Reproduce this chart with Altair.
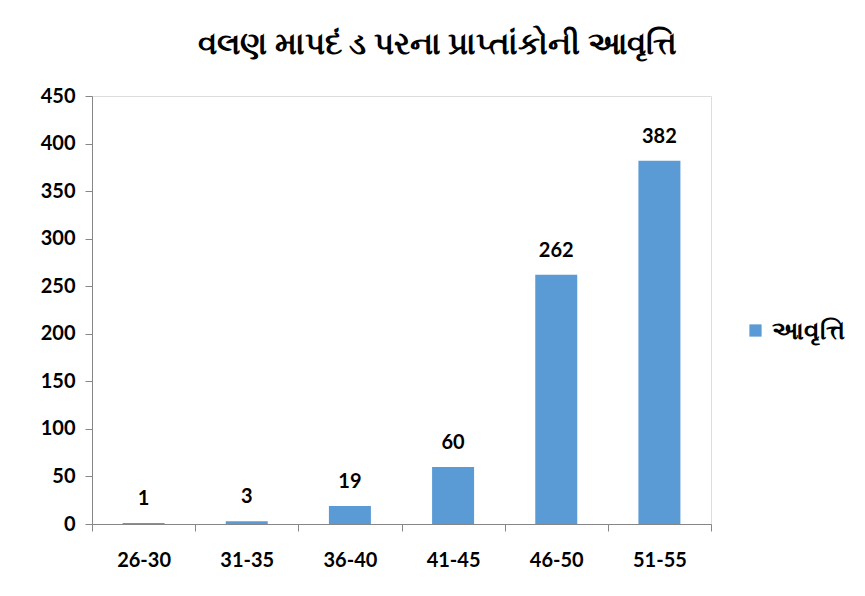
import altair as alt
import pandas as pd

categories = ["26-30", "31-35", "36-40", "41-45", "46-50", "51-55"]
values = [1, 3, 19, 60, 262, 382]
series_name = "આવૃત્તિ"
title_text = "વલણ માપદં ડ પરના પ્રાપ્તાંકોની આવૃત્તિ"

df = pd.DataFrame({"range": categories, "freq": values, "series": [series_name] * len(categories)})

FONT = "Lato"

base = alt.Chart(df).encode(
    x=alt.X("range:N", sort=categories, title=None,
            scale=alt.Scale(paddingInner=0, paddingOuter=0),
            axis=alt.Axis(labelAngle=0, tickBand="extent", labelFontSize=20, labelFont=FONT,
                          labelFontWeight="bold", labelColor="black", labelPadding=19,
                          tickSize=7, tickColor="#868686", domainColor="#868686")),
)

bars = base.mark_bar(size=42, color="#5B9BD5").encode(
    y=alt.Y("freq:Q", title=None,
            scale=alt.Scale(domain=[0, 450]),
            axis=alt.Axis(values=list(range(0, 451, 50)), grid=False, labelFontSize=20, labelFont=FONT,
                          labelFontWeight="bold", labelColor="black", labelPadding=10,
                          tickSize=7, tickColor="#868686", domainColor="#868686")),
    color=alt.Color("series:N", scale=alt.Scale(range=["#5B9BD5"]),
                    legend=alt.Legend(title=None, symbolType="square", symbolSize=150,
                                      labelFontSize=25, labelFont=FONT, labelFontWeight="bold",
                                      labelColor="black", orient="none", legendX=651, legendY=222,
                                      symbolStrokeWidth=0)),
)

labels = base.mark_text(dy=-24, fontSize=20, font=FONT, fontWeight="bold", color="black").encode(
    y="freq:Q", text="freq:Q"
)

chart = alt.layer(bars, labels).properties(
    width=619, height=428,
    title=alt.TitleParams(title_text, fontSize=31, font=FONT, fontWeight="bold", color="black",
                          offset=25, dx=36),
    padding={"left": 32, "top": 21, "right": 5, "bottom": 5},
).configure_view(stroke=None).configure(background="white")

chart.save("out.html", embed_options={"renderer": "svg", "actions": False})
